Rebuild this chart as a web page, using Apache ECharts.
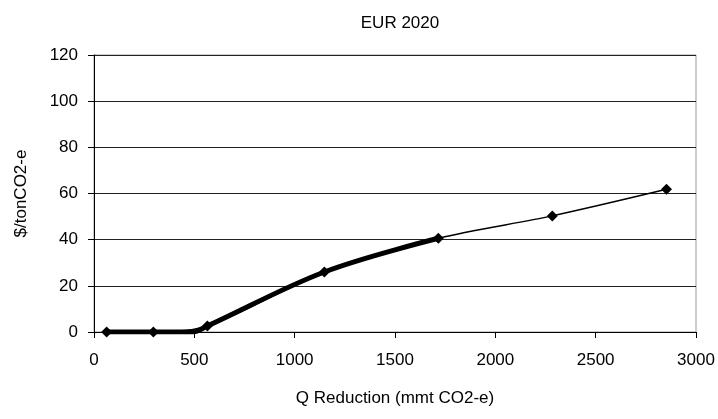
<!DOCTYPE html>
<html>
<head>
<meta charset="utf-8">
<script src="https://cdn.jsdelivr.net/npm/echarts@6/dist/echarts.min.js"></script>
<style>html,body{margin:0;padding:0;background:#fff}#c{width:718px;height:419px}</style>
</head>
<body>
<div id="c"></div>
<script>
// Data
var qReduction = [63, 296, 565, 1148, 1716, 2284, 2853];
var price      = [0, 0, 2.6, 26, 40.6, 50.3, 61.8];
// thick curve segment (up to ~1716), with flat start until ~490
var thickQ     = [63, 296, 490, 565, 1148, 1716];
var thickP     = [0, 0, 0, 2.6, 26, 40.6];
var xTicks = [0, 500, 1000, 1500, 2000, 2500, 3000];
var yTicks = [0, 20, 40, 60, 80, 100, 120];

var font = 'Liberation Sans, Arial, sans-serif';
var chart = echarts.init(document.getElementById('c'), null, {renderer: 'canvas'});
function pairs(a, b) { return a.map(function (v, i) { return [v, b[i]]; }); }
chart.setOption({
  animation: false,
  backgroundColor: '#fff',
  title: {
    text: 'EUR 2020', left: 395, top: 10, textAlign: 'center',
    textStyle: {fontFamily: font, fontSize: 17, fontWeight: 'normal', color: '#000'}
  },
  grid: {left: 94, right: 22, top: 55, bottom: 87, show: true, borderColor: '#999', borderWidth: 1},
  xAxis: {
    type: 'value', min: xTicks[0], max: xTicks[xTicks.length - 1], interval: 500,
    name: 'Q Reduction (mmt CO2-e)', nameLocation: 'middle', nameGap: 58,
    nameTextStyle: {fontFamily: font, fontSize: 17, color: '#000'},
    axisLine: {show: true, onZero: false, lineStyle: {color: '#000', width: 1}},
    axisTick: {show: true, inside: false, length: 6, lineStyle: {color: '#000'}},
    axisLabel: {fontFamily: font, fontSize: 17, color: '#000', margin: 20,
      formatter: function (v) { return String(v); }},
    splitLine: {show: false}
  },
  yAxis: {
    type: 'value', min: yTicks[0], max: yTicks[yTicks.length - 1], interval: 20,
    name: '$/tonCO2-e', nameLocation: 'middle', nameGap: 64, nameRotate: 90,
    nameTextStyle: {fontFamily: font, fontSize: 17, color: '#000'},
    axisLine: {show: true, lineStyle: {color: '#000', width: 1}},
    axisTick: {show: true, inside: false, length: 6, lineStyle: {color: '#000'}},
    axisLabel: {fontFamily: font, fontSize: 17, color: '#000', margin: 16},
    splitLine: {show: true, lineStyle: {color: '#222', width: 1}}
  },
  series: [
    {
      type: 'line', data: pairs(thickQ, thickP), smooth: 0.35, showSymbol: false,
      lineStyle: {color: '#000', width: 5}, z: 2
    },
    {
      type: 'line', data: pairs(qReduction, price), smooth: 0.3,
      symbol: 'diamond', symbolSize: 11, showSymbol: true,
      itemStyle: {color: '#000'},
      lineStyle: {color: '#000', width: 1.5}, z: 3
    }
  ]
});
</script>
</body>
</html>
